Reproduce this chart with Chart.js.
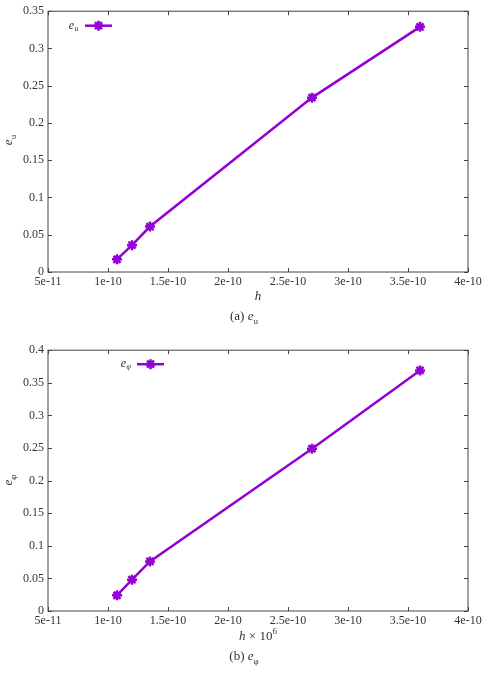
<!DOCTYPE html>
<html>
<head>
<meta charset="utf-8">
<script src="https://cdn.jsdelivr.net/npm/chart.js@4"></script>
<style>
  body { margin: 0; width: 488px; height: 675px; background: #fff; position: relative; overflow: hidden;
         font-family: "Liberation Serif", "DejaVu Serif", serif; color: #333; }
  canvas { position: absolute; left: 0; }
  .lbl { position: absolute; font-size: 13px; white-space: nowrap; }
  .lbl sub { font-size: 9px; }
  .lbl sup { font-size: 9px; }
  .ytitle { transform: translate(-50%, -50%) rotate(-90deg); }
  .center { transform: translate(-50%, -50%); }
</style>
</head>
<body>
<canvas id="chartU" width="488" height="290" style="top:0"></canvas>
<canvas id="chartPhi" width="488" height="290" style="top:339px"></canvas>

<div class="lbl ytitle" style="left:9px; top:140px"><i>e</i><sub>u</sub></div>
<div class="lbl center" style="left:258px; top:296px"><i>h</i></div>
<div class="lbl center" style="left:244px; top:317px">(a) <i>e</i><sub>u</sub></div>

<div class="lbl ytitle" style="left:9px; top:480px"><i>e</i><sub>φ</sub></div>
<div class="lbl center" style="left:258px; top:635px"><i>h</i> × 10<sup>6</sup></div>
<div class="lbl center" style="left:244px; top:657px">(b) <i>e</i><sub>φ</sub></div>

<script>
// --- Data ---
const hValues = [1.075e-10, 1.2e-10, 1.35e-10, 2.7e-10, 3.6e-10];
const euValues = [0.017, 0.036, 0.061, 0.234, 0.329];
const ephiValues = [0.024, 0.048, 0.076, 0.249, 0.369];

const xTicks = [5e-11, 1e-10, 1.5e-10, 2e-10, 2.5e-10, 3e-10, 3.5e-10, 4e-10];
const euTicks = [0, 0.05, 0.1, 0.15, 0.2, 0.25, 0.3, 0.35];
const ephiTicks = [0, 0.05, 0.1, 0.15, 0.2, 0.25, 0.3, 0.35, 0.4];

const lineColor = '#9400d3';
const textColor = '#333';
const tickFont = { family: '"Liberation Serif", "DejaVu Serif", serif', size: 12 };

// frame + inward ticks on all four sides (gnuplot style)
const framePlugin = {
    id: 'frame',
    beforeDatasetsDraw(chart) {
        const { ctx, chartArea: a, scales } = chart;
        ctx.save();
        ctx.strokeStyle = '#444';
        ctx.lineWidth = 1;
        ctx.strokeRect(a.left, a.top, a.right - a.left, a.bottom - a.top);
        ctx.beginPath();
        scales.x.ticks.forEach(t => {
            const px = Math.round(scales.x.getPixelForValue(t.value)) + 0.5;
            ctx.moveTo(px, a.bottom); ctx.lineTo(px, a.bottom - 4);
            ctx.moveTo(px, a.top); ctx.lineTo(px, a.top + 4);
        });
        scales.y.ticks.forEach(t => {
            const py = Math.round(scales.y.getPixelForValue(t.value)) + 0.5;
            ctx.moveTo(a.left, py); ctx.lineTo(a.left + 4, py);
            ctx.moveTo(a.right, py); ctx.lineTo(a.right - 4, py);
        });
        ctx.stroke();
        ctx.restore();
    }
};

// key: label on the left, line sample with marker on the right
const keyPlugin = {
    id: 'key',
    afterDatasetsDraw(chart, args, opts) {
        const { ctx, chartArea: a } = chart;
        const ds = chart.data.datasets[0];
        const y = a.top + opts.dy;
        const x1 = a.left + opts.lineEnd;
        const x0 = x1 - 27;
        ctx.save();
        ctx.strokeStyle = ds.borderColor;
        ctx.lineWidth = 2.5;
        ctx.beginPath();
        ctx.moveTo(x0, y); ctx.lineTo(x1, y);
        ctx.stroke();
        Chart.helpers.drawPoint(ctx, { pointStyle: 'star', radius: 5, borderWidth: 2.5 }, (x0 + x1) / 2, y);
        ctx.fillStyle = textColor;
        ctx.textBaseline = 'middle';
        ctx.font = 'italic 12px "Liberation Serif", serif';
        const subW = 6;
        const mainW = ctx.measureText(opts.main).width;
        const tx = x0 - 5 - subW - mainW;
        ctx.fillText(opts.main, tx, y);
        ctx.font = 'italic 8px "Liberation Serif", serif';
        ctx.fillText(opts.sub, tx + mainW + 0.5, y + 3);
        ctx.restore();
    }
};

function makeChart(id, label, values, yTicks, keyOpts) {
    return new Chart(document.getElementById(id), {
        type: 'line',
        data: {
            datasets: [{
                label: label,
                data: hValues.map((h, i) => ({ x: h, y: values[i] })),
                borderColor: lineColor,
                backgroundColor: lineColor,
                borderWidth: 2.5,
                pointStyle: 'star',
                pointRadius: 5,
                pointBorderWidth: 2.5,
                pointBorderColor: lineColor,
                tension: 0
            }]
        },
        options: {
            responsive: false,
            animation: false,
            layout: { padding: { top: 9, right: 20, left: 0, bottom: 0 } },
            plugins: {
                legend: { display: false },
                tooltip: { enabled: false },
                key: keyOpts
            },
            scales: {
                x: {
                    type: 'linear',
                    min: xTicks[0],
                    max: xTicks[xTicks.length - 1],
                    afterBuildTicks: s => { s.ticks = xTicks.map(v => ({ value: v })); },
                    afterFit: s => { s.height = 18; },
                    grid: { display: false, drawTicks: false },
                    border: { display: false },
                    ticks: {
                        font: tickFont, color: textColor, padding: 3, maxRotation: 0, autoSkip: false,
                        callback: v => v.toExponential()
                    }
                },
                y: {
                    min: yTicks[0],
                    max: yTicks[yTicks.length - 1],
                    afterBuildTicks: s => { s.ticks = yTicks.map(v => ({ value: v })); },
                    afterFit: s => { s.width = 48; },
                    grid: { display: false, drawTicks: false },
                    border: { display: false },
                    ticks: {
                        font: tickFont, color: textColor, padding: 4, autoSkip: false,
                        callback: v => String(v)
                    }
                }
            }
        },
        plugins: [framePlugin, keyPlugin]
    });
}

makeChart('chartU', 'e_u', euValues, euTicks, { main: 'e', sub: 'u', lineEnd: 64, dy: 14.5 });
makeChart('chartPhi', 'e_φ', ephiValues, ephiTicks, { main: 'e', sub: 'φ', lineEnd: 116, dy: 14 });
</script>
</body>
</html>
